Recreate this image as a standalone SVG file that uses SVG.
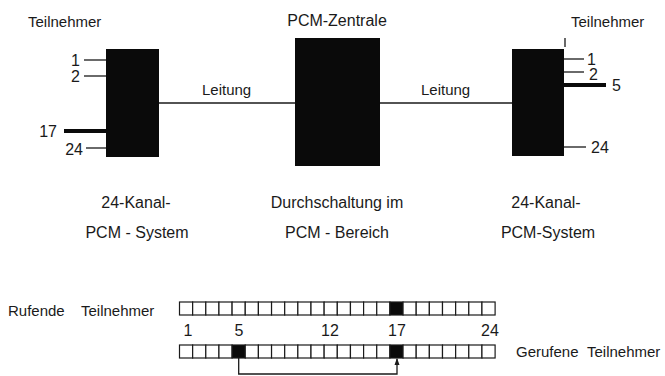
<svg xmlns="http://www.w3.org/2000/svg" width="665" height="376" viewBox="0 0 665 376">
<defs>
<style>
text{font-family:"Liberation Sans",Arial,sans-serif;fill:#1a1a1a}
.s15{font-size:15px}
.s16{font-size:16px}
.blk{fill:#0a0a0a}
.ln{stroke:#1a1a1a;stroke-width:1.3;fill:none}
.thk{stroke:#0a0a0a;stroke-width:4;fill:none}
.cell{fill:#fff;stroke:#1a1a1a;stroke-width:1.2}
.cellb{fill:#0a0a0a;stroke:#1a1a1a;stroke-width:1.2}
</style>
<marker id="arr" markerWidth="6" markerHeight="8" refX="3" refY="1" orient="auto-start-reverse" markerUnits="userSpaceOnUse" viewBox="0 0 6 8">
<path d="M3 0 L6 8 L0 8 Z" fill="#1a1a1a"/>
</marker>
<rect id="c" width="13.15" height="13" class="cell"/>
</defs>
<rect width="665" height="376" fill="#fff"/>

<g id="connectors">
<line class="ln" x1="159" y1="103" x2="295" y2="103"/>
<line class="ln" x1="380" y1="103" x2="512" y2="103"/>
<line class="ln" x1="84" y1="60" x2="106" y2="60"/>
<line class="ln" x1="84" y1="76" x2="106" y2="76"/>
<line class="thk" x1="64" y1="131" x2="106" y2="131"/>
<line class="ln" x1="86" y1="148" x2="106" y2="148"/>
<line class="ln" x1="564" y1="59" x2="584" y2="59"/>
<line class="ln" x1="564" y1="72" x2="584" y2="72"/>
<line class="thk" x1="564" y1="85" x2="606" y2="85"/>
<line class="ln" x1="564" y1="147" x2="586" y2="147"/>
<line class="ln" x1="565" y1="38" x2="565" y2="47"/>
<path class="ln" d="M238.7 358 V374 H397 V359"/>
<path d="M397 358 L399.5 365 L394.5 365 Z" fill="#1a1a1a"/>
</g>

<g id="left-system">
<rect class="blk" x="106" y="49" width="53" height="108"/>
<text class="s15" x="28" y="27">Teilnehmer</text>
<text class="s16" x="80" y="66" text-anchor="end">1</text>
<text class="s16" x="80" y="82" text-anchor="end">2</text>
<text class="s16" x="57" y="137" text-anchor="end">17</text>
<text class="s16" x="83" y="155" text-anchor="end">24</text>
<text class="s16" x="136" y="208" text-anchor="middle">24-Kanal-</text>
<text class="s16" x="137" y="238" text-anchor="middle">PCM - System</text>
</g>

<g id="central">
<rect class="blk" x="295" y="38" width="85" height="128"/>
<text class="s16" x="337" y="26" text-anchor="middle">PCM-Zentrale</text>
<text class="s16" x="337" y="208" text-anchor="middle">Durchschaltung im</text>
<text class="s16" x="337" y="238" text-anchor="middle">PCM - Bereich</text>
</g>

<g id="right-system">
<rect class="blk" x="512" y="49" width="52" height="107"/>
<text class="s15" x="571" y="27">Teilnehmer</text>
<text class="s16" x="587" y="65">1</text>
<text class="s16" x="589" y="80">2</text>
<text class="s16" x="612" y="91">5</text>
<text class="s16" x="591" y="153">24</text>
<text class="s16" x="546" y="208" text-anchor="middle">24-Kanal-</text>
<text class="s16" x="548" y="238" text-anchor="middle">PCM-System</text>
</g>

<g id="leitung-labels">
<text class="s15" x="202" y="95">Leitung</text>
<text class="s15" x="421" y="95">Leitung</text>
</g>

<g id="strip-calling">
<text class="s15" x="8" y="316">Rufende</text>
<text class="s15" x="81" y="316">Teilnehmer</text>
<use href="#c" x="179.5" y="302"/><use href="#c" x="192.65" y="302"/><use href="#c" x="205.8" y="302"/><use href="#c" x="218.95" y="302"/>
<use href="#c" x="232.1" y="302"/><use href="#c" x="245.25" y="302"/><use href="#c" x="258.4" y="302"/><use href="#c" x="271.55" y="302"/>
<use href="#c" x="284.7" y="302"/><use href="#c" x="297.85" y="302"/><use href="#c" x="311" y="302"/><use href="#c" x="324.15" y="302"/>
<use href="#c" x="337.3" y="302"/><use href="#c" x="350.45" y="302"/><use href="#c" x="363.6" y="302"/><use href="#c" x="376.75" y="302"/>
<rect class="cellb" x="389.9" y="302" width="13.15" height="13"/>
<use href="#c" x="403.05" y="302"/><use href="#c" x="416.2" y="302"/><use href="#c" x="429.35" y="302"/><use href="#c" x="442.5" y="302"/>
<use href="#c" x="455.65" y="302"/><use href="#c" x="468.8" y="302"/><use href="#c" x="481.95" y="302"/>
</g>

<g id="channel-numbers">
<text class="s16" x="188" y="336" text-anchor="middle">1</text>
<text class="s16" x="239" y="336" text-anchor="middle">5</text>
<text class="s16" x="330" y="336" text-anchor="middle">12</text>
<text class="s16" x="397" y="336" text-anchor="middle">17</text>
<text class="s16" x="490" y="336" text-anchor="middle">24</text>
</g>

<g id="strip-called">
<use href="#c" x="179.5" y="345"/><use href="#c" x="192.65" y="345"/><use href="#c" x="205.8" y="345"/><use href="#c" x="218.95" y="345"/>
<rect class="cellb" x="232.1" y="345" width="13.15" height="13"/>
<use href="#c" x="245.25" y="345"/><use href="#c" x="258.4" y="345"/><use href="#c" x="271.55" y="345"/>
<use href="#c" x="284.7" y="345"/><use href="#c" x="297.85" y="345"/><use href="#c" x="311" y="345"/><use href="#c" x="324.15" y="345"/>
<use href="#c" x="337.3" y="345"/><use href="#c" x="350.45" y="345"/><use href="#c" x="363.6" y="345"/><use href="#c" x="376.75" y="345"/>
<rect class="cellb" x="389.9" y="345" width="13.15" height="13"/>
<use href="#c" x="403.05" y="345"/><use href="#c" x="416.2" y="345"/><use href="#c" x="429.35" y="345"/><use href="#c" x="442.5" y="345"/>
<use href="#c" x="455.65" y="345"/><use href="#c" x="468.8" y="345"/><use href="#c" x="481.95" y="345"/>
<text class="s15" x="516" y="357">Gerufene</text>
<text class="s15" x="587" y="357">Teilnehmer</text>
</g>
</svg>
